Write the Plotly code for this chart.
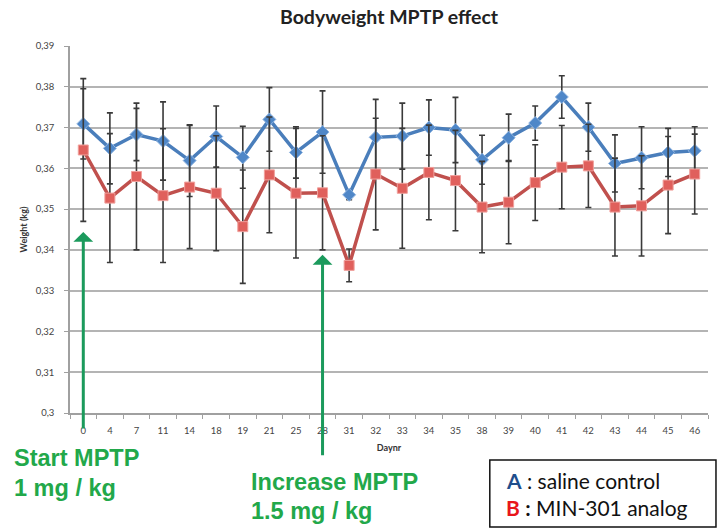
import plotly.graph_objects as go

# Study days (x categories)
days = ["0", "4", "7", "11", "14", "18", "19", "21", "25", "28", "31", "32",
        "33", "34", "35", "38", "39", "40", "41", "42", "43", "44", "45", "46"]

# Group A: saline control (mean bodyweight, kg) and error
saline_mean = [0.3709, 0.3649, 0.3683, 0.3667, 0.3619, 0.3678, 0.3627, 0.3720,
               0.3639, 0.3689, 0.3535, 0.3676, 0.3679, 0.3700, 0.3694, 0.3621,
               0.3675, 0.3711, 0.3775, 0.3701, 0.3612, 0.3626, 0.3639, 0.3643]
saline_err = [0.0086, 0.0087, 0.0064, 0.0096, 0.0088, 0.0075, 0.0076, 0.0078,
              0.0063, 0.0101, 0.0012, 0.0093, 0.0081, 0.0068, 0.0080, 0.0060,
              0.0058, 0.0042, 0.0052, 0.0059, 0.0070, 0.0076, 0.0059, 0.0059]

# Group B: MIN-301 analog
analog_mean = [0.3645, 0.3527, 0.3580, 0.3533, 0.3554, 0.3539, 0.3457, 0.3584,
               0.3539, 0.3540, 0.3362, 0.3586, 0.3551, 0.3590, 0.3570, 0.3505,
               0.3517, 0.3565, 0.3603, 0.3606, 0.3505, 0.3508, 0.3559, 0.3586]
analog_err = [0.0175, 0.0158, 0.0180, 0.0164, 0.0151, 0.0141, 0.0139, 0.0142,
              0.0159, 0.0140, 0.0040, 0.0137, 0.0147, 0.0116, 0.0123, 0.0112,
              0.0102, 0.0093, 0.0102, 0.0102, 0.0120, 0.0123, 0.0119, 0.0098]

# Y axis ticks (comma decimal)
y_ticks = [0.30, 0.31, 0.32, 0.33, 0.34, 0.35, 0.36, 0.37, 0.38, 0.39]
y_tick_text = ["0,3", "0,31", "0,32", "0,33", "0,34", "0,35", "0,36", "0,37", "0,38", "0,39"]

# MPTP dosing events: day, arrow tip weight, label lines
event_days = ["0", "28"]
event_tips = [0.3444, 0.3388]
event_labels = [["Start MPTP", "1 mg / kg"], ["Increase MPTP", "1.5 mg / kg"]]

GREEN_TEXT = "#22a84a"
GREEN_ARROW = "#1b9a5c"
ERR_COLOR = "#3a3a3a"

fig = go.Figure()

fig.add_trace(go.Scatter(
    x=days, y=saline_mean, mode="lines+markers", name="A",
    line=dict(color="#4a7ebb", width=3.5),
    marker=dict(symbol="diamond", size=10, color="#4f87c8",
                line=dict(color="#8fb4e0", width=1)),
    error_y=dict(type="data", array=saline_err, color=ERR_COLOR, thickness=1.6, width=3),
))
fig.add_trace(go.Scatter(
    x=days, y=analog_mean, mode="lines+markers", name="B",
    line=dict(color="#c0504d", width=3.5),
    marker=dict(symbol="square", size=10, color="#e0605c",
                line=dict(color="#f0a09c", width=1)),
    error_y=dict(type="data", array=analog_err, color=ERR_COLOR, thickness=1.6, width=3),
))

annotations = []
# Dosing arrows, anchored to the category index of each event day
tails = [198, 202]
for d, tip, tail in zip(event_days, event_tips, tails):
    annotations.append(dict(
        x=days.index(d), y=tip, xref="x", yref="y", text="", showarrow=True,
        ax=0, ay=tail, axref="pixel", ayref="pixel",
        arrowhead=1, arrowsize=1.1, arrowwidth=3, arrowcolor=GREEN_ARROW,
    ))

# Dosing labels (paper coordinates relative to plot area)
label_pos = [(-0.091, -0.122, -0.204), (0.281, -0.188, -0.267)]
for (lx, y1, y2), lines in zip(label_pos, event_labels):
    for yy, txt in zip((y1, y2), lines):
        annotations.append(dict(
            x=lx, y=yy, xref="paper", yref="paper", text=f"<b>{txt}</b>",
            showarrow=False, xanchor="left", yanchor="middle",
            font=dict(family="Liberation Sans", size=23.5, color=GREEN_TEXT),
        ))

# Group key box
key_lines = [
    ("<b style='color:#1f4e8c'>A</b> : saline control", -0.184),
    ("<b style='color:#e8161b'>B</b> <b>:</b> MIN-301 analog", -0.257),
]
for txt, yy in key_lines:
    annotations.append(dict(
        x=0.680, y=yy, xref="paper", yref="paper", text=txt, showarrow=False,
        xanchor="left", yanchor="middle",
        font=dict(family="Lato", size=21, color="#111111"),
    ))

shapes = [dict(
    type="rect", xref="paper", yref="paper",
    x0=0.658, x1=1.0125, y0=-0.3106, y1=-0.128,
    line=dict(color="#111111", width=1.5), fillcolor="rgba(0,0,0,0)",
)]

fig.update_layout(
    width=724, height=529,
    margin=dict(l=70, r=16, t=46, b=116),
    paper_bgcolor="white", plot_bgcolor="white",
    showlegend=False,
    title=dict(text="<b>Bodyweight MPTP effect</b>", x=0.5, xref="paper",
               y=1 - 17 / 529, yref="container", yanchor="middle", xanchor="center",
               font=dict(family="Lato", size=19.5, color="#222222")),
    annotations=annotations,
    shapes=shapes,
)

fig.update_xaxes(
    type="category", categoryorder="array", categoryarray=days,
    range=[-0.5, len(days) - 0.5],
    showgrid=False, showline=True, linecolor="#a0a0a0", linewidth=1.5,
    ticks="outside", tickson="boundaries", ticklen=4, tickcolor="#a0a0a0",
    ticklabelstandoff=8,
    tickfont=dict(family="Lato", size=9.5, color="#444444"),
    title=dict(text="<b>Daynr</b>", font=dict(family="Lato", size=9, color="#333333"),
               standoff=10),
    automargin=False,
)
fig.update_yaxes(
    range=[0.30, 0.39], tickvals=y_ticks, ticktext=y_tick_text,
    showgrid=True, gridcolor="#b4b4b4", gridwidth=1.5,
    showline=True, linecolor="#a0a0a0", linewidth=1.5,
    ticks="outside", ticklen=4, tickcolor="#a0a0a0", ticklabelstandoff=8,
    tickfont=dict(family="Lato", size=9.5, color="#444444"),
    title=dict(text="<b>Weight (kg)</b>", font=dict(family="Lato", size=9, color="#333333"),
               standoff=7),
    zeroline=False, automargin=False,
)

fig.write_html("out.html")
